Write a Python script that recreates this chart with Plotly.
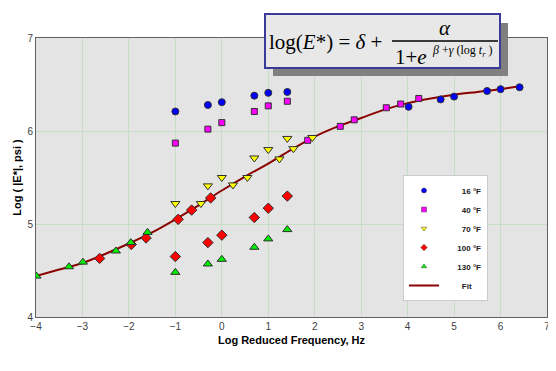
import plotly.graph_objects as go

# ---- data ----
freq_log = [-1.0, -0.3, 0.0, 0.7, 1.0, 1.41]

temps = ["16 °F", "40 °F", "70 °F", "100 °F", "130 °F"]

raw_16 = [6.21, 6.28, 6.31, 6.38, 6.41, 6.42]
shx_16 = [4.02, 4.71, 5.00, 5.71, 6.00, 6.41]
shy_16 = [6.26, 6.34, 6.37, 6.43, 6.45, 6.47]

raw_40 = [5.87, 6.02, 6.09, 6.21, 6.27, 6.32]
shx_40 = [1.85, 2.55, 2.85, 3.54, 3.85, 4.24]
shy_40 = [5.90, 6.05, 6.12, 6.25, 6.29, 6.35]

raw_70 = [5.22, 5.41, 5.50, 5.71, 5.80, 5.92]
shx_70 = [-0.45, 0.24, 0.55, 1.24, 1.54, 1.95]
shy_70 = [5.22, 5.42, 5.50, 5.70, 5.81, 5.93]

raw_100 = [4.65, 4.80, 4.88, 5.07, 5.17, 5.30]
shx_100 = [-2.63, -1.95, -1.63, -0.94, -0.65, -0.24]
shy_100 = [4.63, 4.78, 4.85, 5.05, 5.15, 5.28]

raw_130 = [4.48, 4.57, 4.62, 4.75, 4.84, 4.94]
shx_130 = [-3.99, -3.29, -2.99, -2.28, -1.96, -1.60]
shy_130 = [4.44, 4.54, 4.59, 4.71, 4.80, 4.91]

fit_x = [-4.0, -3.5, -3.0, -2.5, -2.0, -1.5, -1.0, -0.5, 0.0, 0.5, 1.0, 1.5,
         2.0, 2.5, 3.0, 3.5, 4.0, 4.5, 5.0, 5.5, 6.0, 6.4]
fit_y = [4.44, 4.51, 4.58, 4.68, 4.79, 4.91, 5.05, 5.20, 5.36, 5.51, 5.65, 5.80,
         5.94, 6.05, 6.14, 6.23, 6.30, 6.35, 6.39, 6.42, 6.45, 6.48]

x_ticks = [-4, -3, -2, -1, 0, 1, 2, 3, 4, 5, 6, 7]
y_ticks = [4, 5, 6, 7]

# ---- styles ----
styles = [
    dict(symbol="circle", color="#0000ff", size=7),
    dict(symbol="square", color="#ff00ff", size=6),
    dict(symbol="triangle-down", color="#ffff00", size=8),
    dict(symbol="diamond", color="#ff0000", size=8),
    dict(symbol="triangle-up", color="#00ee00", size=8),
]
series = [
    (raw_16, shx_16, shy_16),
    (raw_40, shx_40, shy_40),
    (raw_70, shx_70, shy_70),
    (raw_100, shx_100, shy_100),
    (raw_130, shx_130, shy_130),
]
NB = "\u00a0"
legend_pad = [8, 8, 8, 6, 6]

fig = go.Figure()

fig.add_trace(go.Scatter(
    x=fit_x, y=fit_y, mode="lines", name=NB * 8 + "Fit",
    line=dict(color="#8b0000", width=2, shape="spline"),
    legendrank=6,
))

for i, (name, st, (raw, sx, sy)) in enumerate(zip(temps, styles, series)):
    fig.add_trace(go.Scatter(
        x=freq_log + sx, y=raw + sy, mode="markers", name=name,
        marker=dict(symbol=st["symbol"], color=st["color"], size=st["size"],
                    line=dict(color="#303030", width=1)),
        showlegend=False,
    ))
    # legend-only entry with a smaller symbol, as in the reference legend
    fig.add_trace(go.Scatter(
        x=[None], y=[None], mode="markers", name=NB * legend_pad[i] + name,
        marker=dict(symbol=st["symbol"], color=st["color"], size=5,
                    line=dict(color="#404040", width=0.5)),
        legendrank=i + 1, hoverinfo="skip",
    ))

# the page body has an 8px margin, so the figure is drawn 8px right/down
OFF = 8
W, H = 556 - OFF, 371 - OFF
L, R, T, B = 36 - OFF, 9, 38 - OFF, 54
pw, ph = W - L - R, H - T - B


def px(x):  # page pixel x -> paper
    return (x - OFF - L) / pw


def py(y):  # page pixel y -> paper
    return (OFF + H - B - y) / ph


shapes = [
    dict(type="rect", xref="paper", yref="paper", layer="above",
         x0=px(273), x1=px(508), y0=py(23), y1=py(76),
         fillcolor="#808080", line=dict(width=0)),
    dict(type="rect", xref="paper", yref="paper", layer="above",
         x0=px(265), x1=px(500), y0=py(14), y1=py(68),
         fillcolor="#e8e8e8", line=dict(color="#3a3a9a", width=2)),
    dict(type="line", xref="paper", yref="paper", layer="above",
         x0=px(392), x1=px(498), y0=py(41), y1=py(41),
         line=dict(color="black", width=1.5)),
]

serif = "Liberation Serif"
annotations = [
    dict(text="log(<i>E</i>*) = <i>δ</i> +", x=px(267), y=py(42), xref="paper", yref="paper",
         xanchor="left", yanchor="middle", showarrow=False,
         font=dict(family=serif, size=21, color="black")),
    dict(text="<i>α</i>", x=px(445), y=py(28), xref="paper", yref="paper",
         xanchor="center", yanchor="middle", showarrow=False,
         font=dict(family=serif, size=21, color="black")),
    dict(text="1+<i>e</i>", x=px(393), y=py(57), xref="paper", yref="paper",
         xanchor="left", yanchor="middle", showarrow=False,
         font=dict(family=serif, size=21, color="black")),
    dict(text="<i>β</i> +<i>γ</i> (log <i>t<sub>r</sub></i> )", x=px(430), y=py(51),
         xref="paper", yref="paper", xanchor="left", yanchor="middle", showarrow=False,
         font=dict(family=serif, size=12, color="black")),
]

fig.update_layout(
    width=W, height=H,
    margin=dict(l=L, r=R, t=T, b=B),
    paper_bgcolor="white",
    plot_bgcolor="#e4e4e4",
    font=dict(family="Liberation Sans, Arial, sans-serif", color="#404040", size=10),
    shapes=shapes,
    annotations=annotations,
    legend=dict(
        x=px(403), y=py(175), xanchor="left", yanchor="top",
        bgcolor="white", bordercolor="#cccccc", borderwidth=1,
        font=dict(size=8, color="#202020", weight="bold"),
        itemwidth=30,
        tracegroupgap=0,
    ),
    xaxis=dict(
        range=[-4, 7], tickvals=x_ticks, ticks="", showgrid=True, automargin=False,
        gridcolor="#c8dcc8", gridwidth=1, zeroline=False,
        showline=True, mirror=True, linecolor="#606060", linewidth=1,
        tickfont=dict(size=10, color="#404040"),
        title=dict(text="Log Reduced Frequency, Hz", standoff=5,
                   font=dict(size=11, color="black", weight="bold")),
    ),
    yaxis=dict(
        range=[4, 7], tickvals=y_ticks, ticks="", showgrid=True, automargin=False,
        gridcolor="#c8dcc8", gridwidth=1, zeroline=False,
        showline=True, mirror=True, linecolor="#606060", linewidth=1,
        tickfont=dict(size=10, color="#404040"),
        title=dict(text="Log ( |E*|, psi )", standoff=3,
                   font=dict(size=11, color="black", weight="bold")),
    ),
)

fig.write_html("out.html")
